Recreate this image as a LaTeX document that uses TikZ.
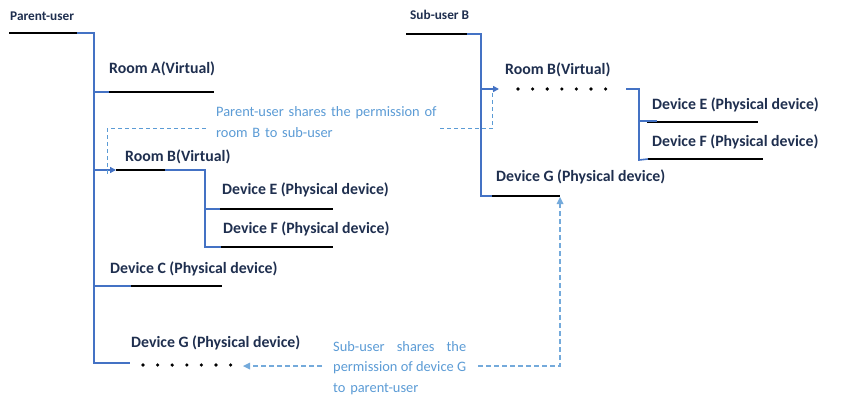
\documentclass[tikz,border=0pt]{standalone}
\usepackage{fontspec}
\setmainfont{Carlito}
\usetikzlibrary{arrows.meta}
\definecolor{txt}{HTML}{1F2F4F}
\definecolor{tree}{HTML}{4472C4}
\definecolor{share}{HTML}{5B9BD5}
\begin{document}
\begin{tikzpicture}[x=1pt,y=-1pt,
  lbl/.style={anchor=base west, inner sep=0, font=\bfseries\fontsize{15.8}{19}\selectfont, text=txt},
  toplbl/.style={lbl, font=\bfseries\fontsize{13.3}{16}\selectfont},
  uline/.style={line width=2.4pt, black},
  branch/.style={line width=1.6pt, tree},
  tip/.style={-{Triangle[length=6pt,width=6pt]}},
  shared/.style={share, line width=1pt, dash pattern=on 4pt off 3pt},
  shared2/.style={share!85, line width=1.4pt, dash pattern=on 5pt off 3pt},
  note/.style={anchor=base west, inner sep=0, font=\fontsize{14.4}{20.5}\selectfont, text=share, align=left},
  dotrow/.style={fill=black}
]
\useasboundingbox (0,0) rectangle (845,406);

% ---------- Parent-user tree ----------
\node[toplbl] (pu) at (10,21) {Parent-user};
\coordinate (pu-l) at (9,33);   \coordinate (pu-r) at (77,33);
\coordinate (pu-j) at (94,33);  \coordinate (pu-end) at (94,363);

\node[lbl] (ra) at (109,74) {Room A(Virtual)};
\coordinate (ra-l) at (109,92); \coordinate (ra-r) at (214,92);
\coordinate (ra-j) at (94,92);

\node[lbl] (rb) at (125,161) {Room B(Virtual)};
\coordinate (rb-l) at (116,170); \coordinate (rb-r) at (182,170);
\coordinate (rb-j) at (94,170);  \coordinate (rb-b) at (165,170);
\coordinate (rb-k) at (205,170); \coordinate (rb-end) at (205,247);

\node[lbl] (de) at (222,194) {Device E (Physical device)};
\coordinate (de-l) at (220,209); \coordinate (de-r) at (333,209);
\coordinate (de-j) at (205,209);

\node[lbl] (df) at (223,233) {Device F (Physical device)};
\coordinate (df-l) at (221,247); \coordinate (df-r) at (333,247);

\node[lbl] (dc) at (110,273) {Device C (Physical device)};
\coordinate (dc-l) at (111,286); \coordinate (dc-r) at (222,286);
\coordinate (dc-j) at (94,286);  \coordinate (dc-b) at (131,286);

\node[lbl] (dg) at (131,347) {Device G (Physical device)};
\coordinate (dg-b) at (130,363);

\draw[uline] (pu-l) -- (pu-r);
\draw[uline] (ra-l) -- (ra-r);
\draw[uline] (rb-l) -- (rb-r);
\draw[uline] (de-l) -- (de-r);
\draw[uline] (df-l) -- (df-r);
\draw[uline] (dc-l) -- (dc-r);
\foreach \i in {0,...,6} \fill[dotrow] (143+14.6*\i,365) circle (1.8pt);

\draw[branch] (pu-r) -- (pu-j) -- (pu-end) -- (dg-b);
\draw[branch] (ra-j) -- (ra-l);
\draw[branch,tip] (rb-j) -- (rb-l);
\draw[branch] (rb-b) -- (rb-k) -- (rb-end) -- (df-l);
\draw[branch] (de-j) -- (de-l);
\draw[branch] (dc-j) -- (dc-b);

% ---------- Sub-user B tree ----------
\node[toplbl] (sb) at (410,20) {Sub-user B};
\coordinate (sb-l) at (406,34);  \coordinate (sb-r) at (473,34);
\coordinate (sb-b) at (467,34);  \coordinate (sb-j) at (481,34);
\coordinate (sb-end) at (481,196);

\node[lbl] (rb2) at (505,75) {Room B(Virtual)};
\coordinate (rb2-j) at (481,89); \coordinate (rb2-a) at (499,89);
\coordinate (rb2-b) at (626,89); \coordinate (rb2-k) at (639,89);
\coordinate (rb2-end) at (639,160);

\node[lbl] (de2) at (652,110) {Device E (Physical device)};
\coordinate (de2-l) at (647,122); \coordinate (de2-r) at (758,122);
\coordinate (de2-j) at (639,121); \coordinate (de2-b) at (657,121);

\node[lbl] (df2) at (652,147) {Device F (Physical device)};
\coordinate (df2-l) at (648,159); \coordinate (df2-r) at (763,159);

\node[lbl] (dg2) at (496,182) {Device G (Physical device)};
\coordinate (dg2-l) at (492,196); \coordinate (dg2-r) at (560,196);

\draw[uline] (sb-l) -- (sb-r);
\draw[uline] (de2-l) -- (de2-r);
\draw[uline] (df2-l) -- (df2-r);
\draw[uline] (dg2-l) -- (dg2-r);
\foreach \i in {0,...,6} \fill[dotrow] (518+14.6*\i,89) circle (1.8pt);

\draw[branch] (sb-b) -- (sb-j) -- (sb-end) -- (dg2-l);
\draw[branch,tip] (rb2-j) -- (rb2-a);
\draw[branch] (rb2-b) -- (rb2-k) -- (rb2-end) -- (df2-l);
\draw[branch] (de2-j) -- (de2-b);

% ---------- sharing: room B ----------
\node[note, text width=260pt] (n1) at (216,117) {Parent-user shares the permission of\\room B to sub-user};
\coordinate (s1-a) at (107,174); \coordinate (s1-b) at (107,129);
\coordinate (s1-c) at (207,129); \coordinate (s1-d) at (440,129);
\coordinate (s1-e) at (492,129); \coordinate (s1-f) at (492,90);
\draw[shared] (s1-a) -- (s1-b) -- (s1-c);
\draw[shared] (s1-d) -- (s1-e) -- (s1-f);

% ---------- sharing: device G ----------
\node[note, text width=133pt] (n2) at (333,351)
  {\makebox[133pt]{Sub-user\hfill shares\hfill the}\\
   \makebox[133pt]{permission\hfill of\hfill device\hfill G}\\
   to parent-user};
\coordinate (s2-a) at (322,366); \coordinate (s2-b) at (243,366);
\coordinate (s2-c) at (478,366); \coordinate (s2-d) at (560,366);
\coordinate (s2-e) at (560,197);
\draw[shared2] (s2-a) -- (s2-b);
\fill[share!85] (s2-b) -- ++(7,-3.5) -- ++(0,7) -- cycle;
\draw[shared2] (s2-c) -- (s2-d) -- ++(0,-162);
\fill[share!85] (s2-e) -- ++(-3.5,7) -- ++(7,0) -- cycle;
\end{tikzpicture}
\end{document}
